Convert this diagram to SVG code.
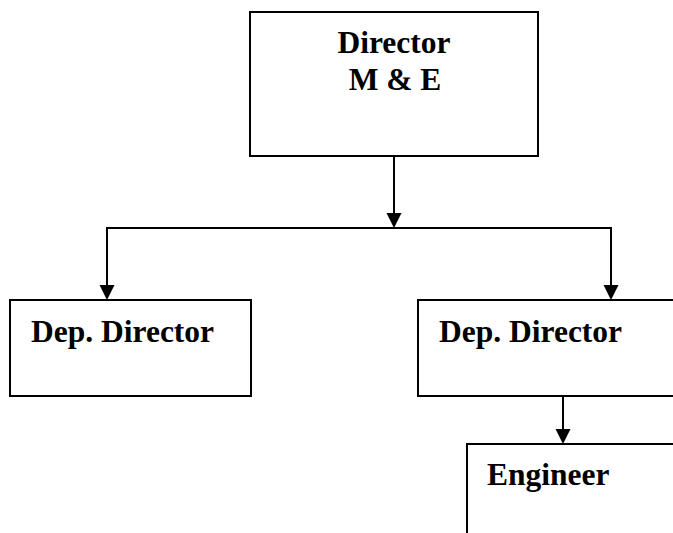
<svg xmlns="http://www.w3.org/2000/svg" width="673" height="533" viewBox="0 0 673 533">
<style>
.box{fill:#fff;stroke:#000;stroke-width:2}
.lbl{font-family:"Liberation Serif","Times New Roman",serif;font-weight:bold;font-size:31.5px;fill:#000}
.ln{fill:none;stroke:#000;stroke-width:2}
</style>
<defs>
<marker id="ah" markerUnits="userSpaceOnUse" markerWidth="16" markerHeight="16" viewBox="0 0 16 16" refX="8" refY="15" orient="auto-start-reverse">
<path d="M0.5,0 L15.5,0 L8,15 Z" fill="#000" transform="rotate(-90 8 8)"/>
</marker>
</defs>
<rect width="673" height="533" fill="#fff"/>
<g id="director">
<rect class="box" x="250" y="12" width="288" height="144"/>
<text class="lbl" x="394" y="53" text-anchor="middle">Director</text>
<text class="lbl" x="395" y="90" text-anchor="middle">M &amp; E</text>
</g>
<g id="dep-left">
<rect class="box" x="10" y="300" width="241" height="96"/>
<text class="lbl" x="31" y="342">Dep. Director</text>
</g>
<g id="dep-right">
<rect class="box" x="418" y="300" width="270" height="96"/>
<text class="lbl" x="439" y="342">Dep. Director</text>
</g>
<g id="engineer">
<rect class="box" x="467" y="444" width="220" height="100"/>
<text class="lbl" x="487" y="485">Engineer</text>
</g>
<g id="connectors">
<polyline class="ln" points="394,157 394,213"/>
<polygon points="386.5,213 401.5,213 394,228" fill="#000"/>
<polyline class="ln" points="107,285 107,228 611,228 611,285"/>
<polygon points="99.5,285 114.5,285 107,300" fill="#000"/>
<polygon points="603.5,285 618.5,285 611,300" fill="#000"/>
<polyline class="ln" points="563,397 563,429"/>
<polygon points="555.5,429 570.5,429 563,444" fill="#000"/>
</g>
</svg>
